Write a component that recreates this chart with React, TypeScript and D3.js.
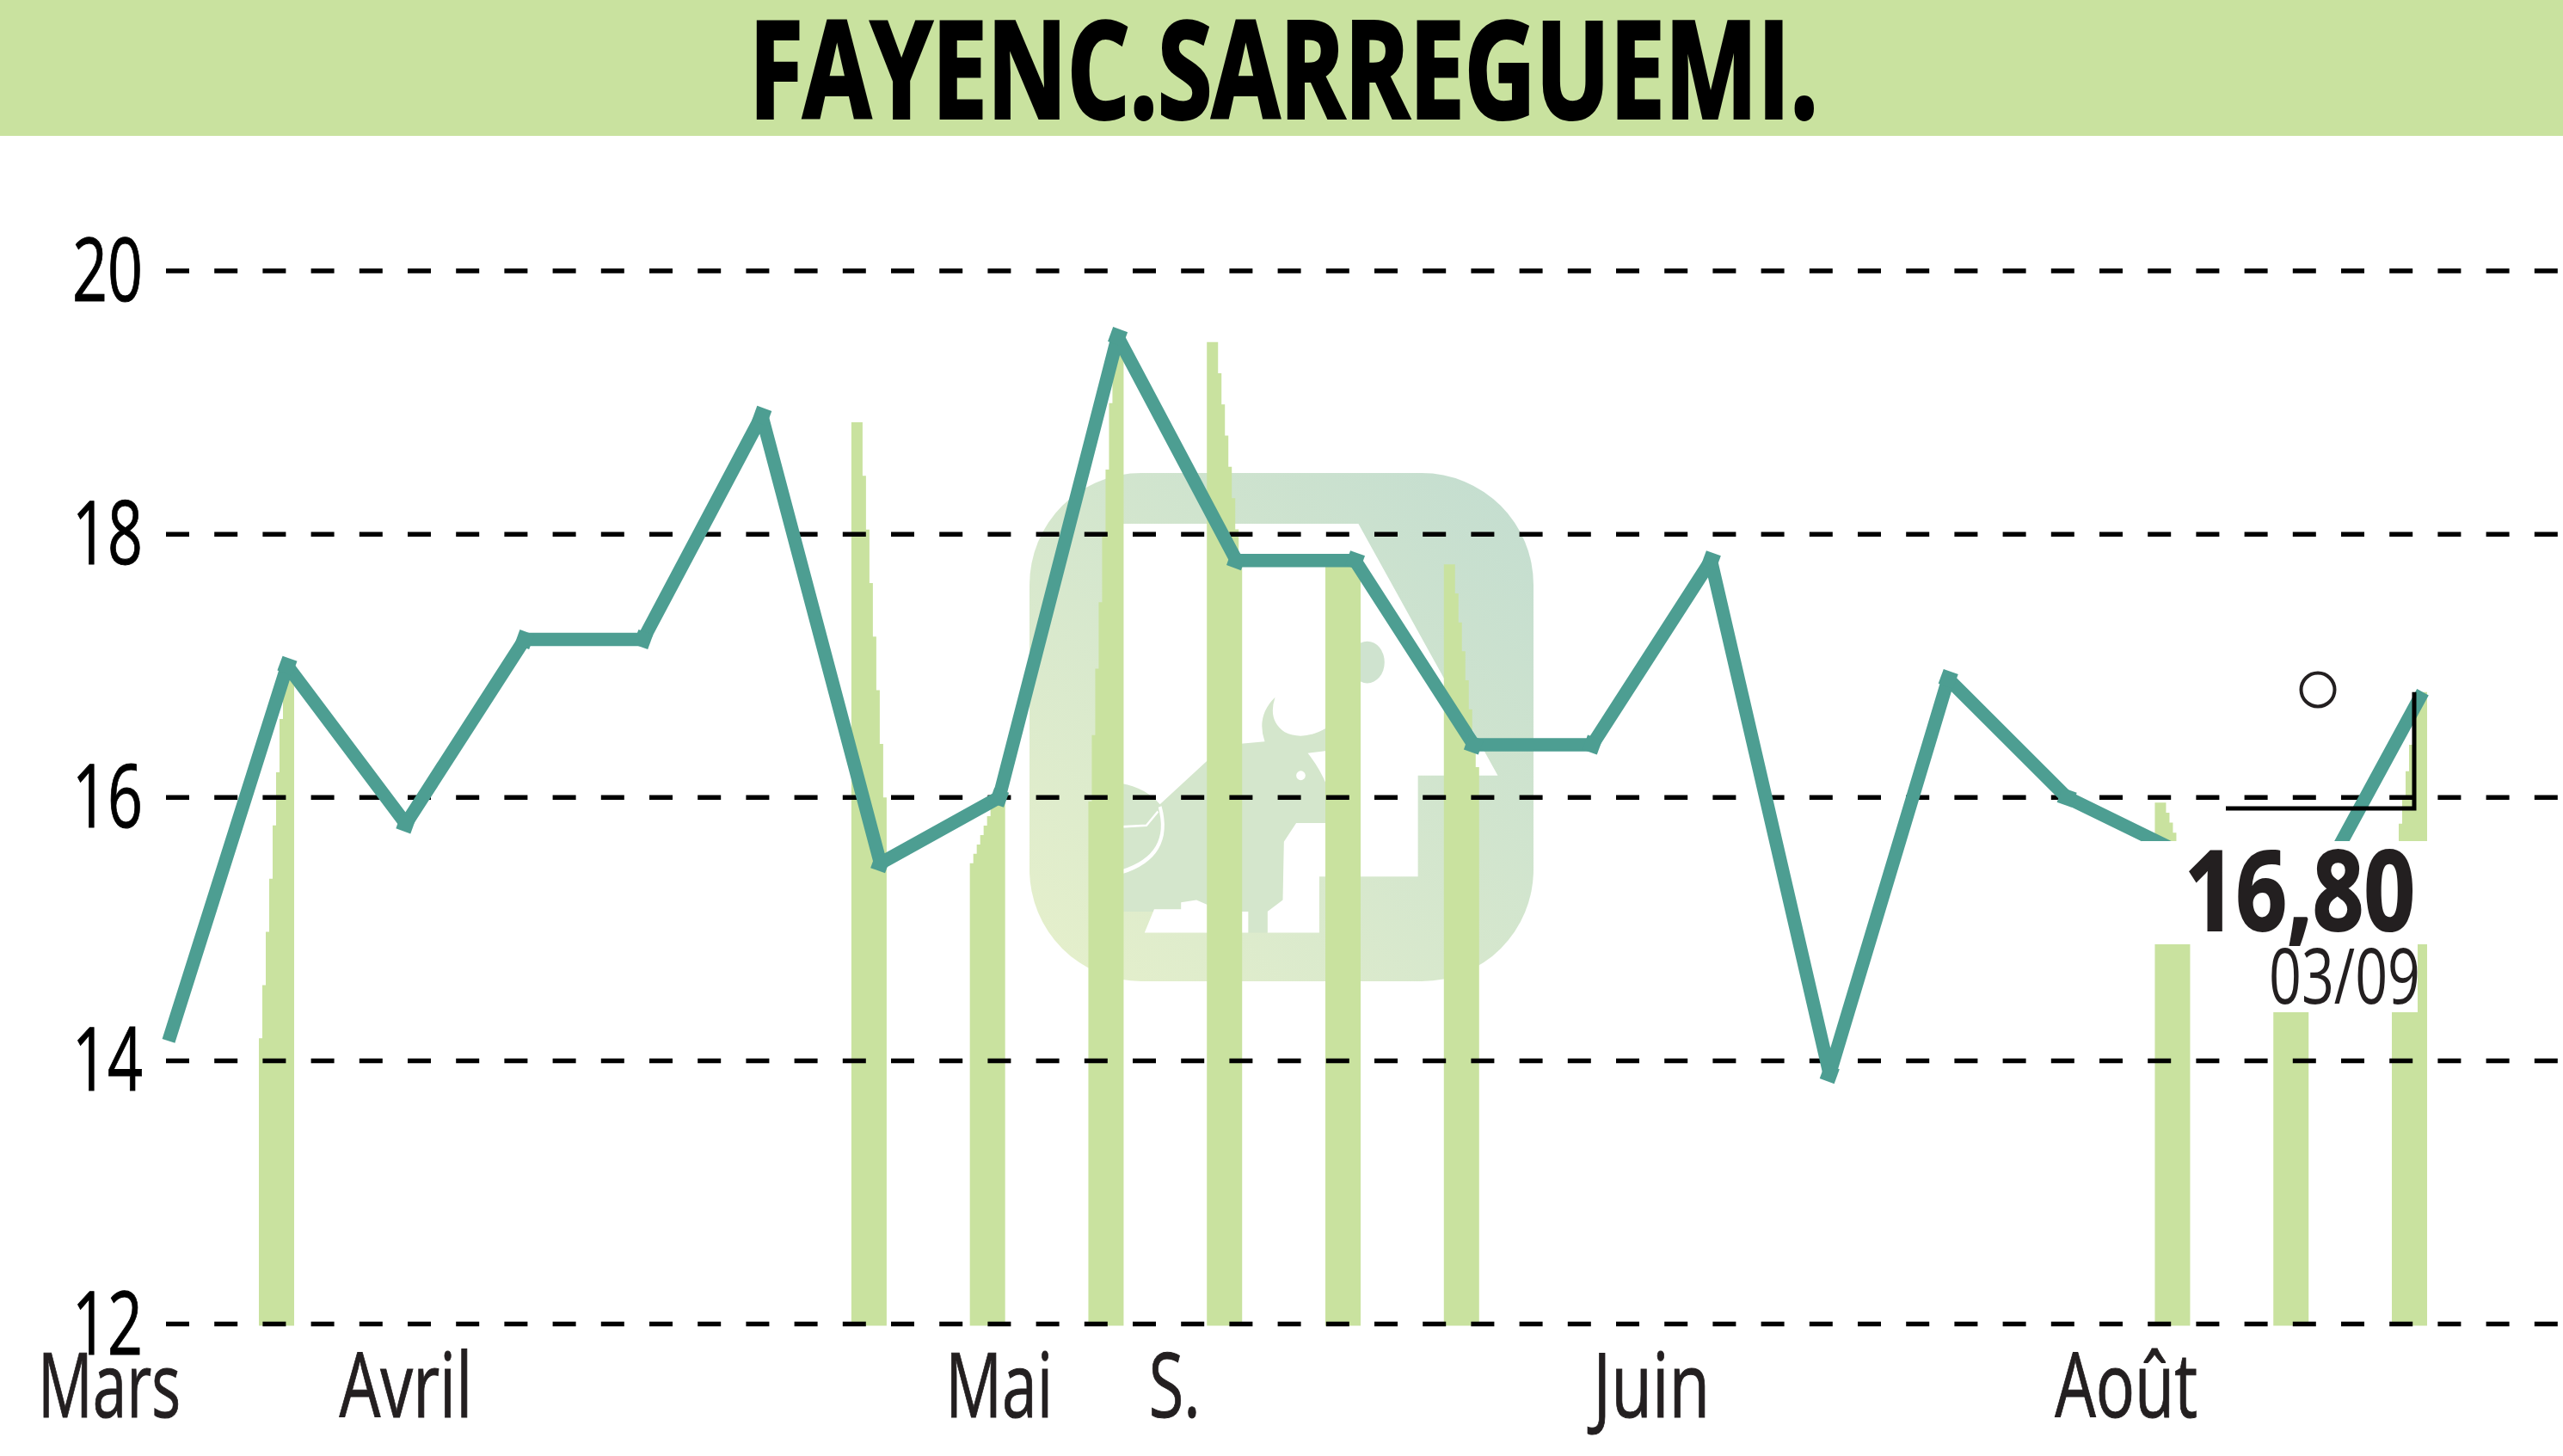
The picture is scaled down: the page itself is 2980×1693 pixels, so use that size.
import React from "react";
import * as d3 from "d3";

const W = 2980, H = 1693;
const title = "FAYENC.SARREGUEMI.";
const lineValues = [14.15, 17.0, 15.8, 17.2, 17.2, 18.9, 15.5, 16.0, 19.5, 17.8, 17.8, 16.4, 16.4, 17.8, 13.9, 16.9, 16.0, 15.56, 15.14, 16.8];
const yTicks = [12, 14, 16, 18, 20];
const monthLabels = ["Mars", "Avril", "Mai", "S.", "Juin", "Août"];
const monthPositions = [-0.5, 2, 7, 8.48, 12.5, 16.5];
const monthWidths = [166, 155, 125, 60, 136, 166];
const barIndex = [1, 6, 7, 8, 9, 10, 11, 17, 18, 19];
const barTop = [17.0, 18.85, 16.0, 19.5, 19.46, 17.8, 17.77, 15.96, 15.0, 16.8];
const barTaperEnd = [14.17, 16.0, 15.5, 15.97, 17.8, 17.8, 16.23, 15.43, 15.0, 15.4];
const barTaperSide = ["left", "right", "left", "left", "right", "none", "right", "right", "none", "left"];
const lastValue = "16,80";
const lastDate = "03/09";

const y = d3.scaleLinear().domain([12, 20]).range([1539.5, 315]);
const xLine = d3.scaleLinear().domain([0, 19]).range([196, 2817]);
const xBar = d3.scaleLinear().domain([1, 19]).range([301, 2781]);
const barW = 41, narrow = 13, steps = 7;

function barPath(i: number) {
  const x0 = xBar(barIndex[i]), x1 = x0 + barW;
  const top = y(barTop[i]), end = y(barTaperEnd[i]), base = y(12) + 2;
  const side = barTaperSide[i];
  const p = d3.path();
  if (side === "none") {
    p.rect(x0, top, barW, base - top);
    return p.toString();
  }
  const sh = (end - top) / steps, sw = (barW - narrow) / steps;
  if (side === "left") {
    p.moveTo(x1, top);
    p.lineTo(x1, base);
    p.lineTo(x0, base);
    p.lineTo(x0, end);
    for (let s = 1; s <= steps; s++) {
      p.lineTo(x0 + sw * (s - 1), end - sh * (s - 1));
      p.lineTo(x0 + sw * s, end - sh * (s - 1));
    }
    p.lineTo(x0 + sw * steps, top);
  } else {
    p.moveTo(x0, top);
    p.lineTo(x0, base);
    p.lineTo(x1, base);
    p.lineTo(x1, end);
    for (let s = 1; s <= steps; s++) {
      p.lineTo(x1 - sw * (s - 1), end - sh * (s - 1));
      p.lineTo(x1 - sw * s, end - sh * (s - 1));
    }
    p.lineTo(x1 - sw * steps, top);
  }
  p.closePath();
  return p.toString();
}

const line = d3.line<number>().x((_, i) => xLine(i)).y((d) => y(d)).curve(d3.curveLinear);
const GREEN = "#c9e29f", TEAL = "#4d9e92", INK = "#231f20";
const font = "'Open Sans', sans-serif";

export default function App() {
  return (
    <svg width={W} height={H} viewBox={`0 0 ${W} ${H}`} style={{ position: "absolute", left: 0, top: 0, display: "block", background: "#fff" }}>
      <defs>
        <linearGradient id="logo" gradientUnits="userSpaceOnUse" x1={1197} y1={1141} x2={1783} y2={550}>
          <stop offset="0" stopColor="#e6f0cb" />
          <stop offset="1" stopColor="#c3ddd0" />
        </linearGradient>
      </defs>
      <rect x={0} y={0} width={W} height={158} fill={GREEN} />
      <text x={871} y={137} fontFamily={font} fontWeight={700} fontSize={157} textLength={1243} lengthAdjust="spacingAndGlyphs" fill="#000" stroke="#000" strokeWidth={4}>{title}</text>

      <rect x={1197} y={550} width={586} height={591} rx={130} ry={130} fill="url(#logo)" />
      <g transform="translate(1150 350) scale(0.4464 0.542)">
        <path d="M340,478 L962,478 L1325,1018 L1117,1018 L1117,1235 L860,1235 L860,1355 L725,1355 L725,1300 L340,1300 Z" fill="#fff" />
        <ellipse cx={985} cy={775} rx={45} ry={45} fill="#cfe3cf" />
        <path d="M345,1035 Q410,1045 445,1080 L570,985 L650,950 L718,945 Q695,890 745,850 Q725,900 770,925 Q820,945 880,915 L880,965 L830,970 Q860,1000 880,1040 L880,1120 L800,1120 L768,1160 L765,1285 L725,1310 L725,1355 L675,1355 L675,1310 L345,1310 Z" fill="#d4e6cc" />
        <path d="M405,1355 L430,1305 L500,1305 L500,1290 L540,1285 L610,1310 L675,1310 L675,1355 Z" fill="#fff" />
        <path d="M445,1085 Q480,1190 345,1225" fill="none" stroke="#fff" strokeWidth={9} />
        <path d="M440,1095 L410,1125 L345,1128" fill="none" stroke="#fff" strokeWidth={5} />
        <ellipse cx={812} cy={1018} rx={12} ry={10} fill="#fff" />
      </g>

      {barIndex.map((_, i) => (
        <path key={i} d={barPath(i)} fill={GREEN} />
      ))}

      {yTicks.map((t) => (
        <line key={t} x1={193} x2={W} y1={y(t)} y2={y(t)} stroke="#000" strokeWidth={5.5} strokeDasharray="27 29.2" />
      ))}

      {yTicks.map((t) => (
        <text key={t} x={84} y={y(t) + 35} fontFamily={font} fontSize={103} textLength={82} lengthAdjust="spacingAndGlyphs" fill="#000" stroke="#000" strokeWidth={1}>{t}</text>
      ))}

      {monthLabels.map((m, i) => (
        <text key={m} x={xLine(monthPositions[i]) - monthWidths[i] / 2} y={1648} fontFamily={font} fontSize={105} textLength={monthWidths[i]} lengthAdjust="spacingAndGlyphs" fill={INK} stroke={INK} strokeWidth={1}>{m}</text>
      ))}

      <path d={line(lineValues) ?? ""} fill="none" stroke={TEAL} strokeWidth={15.5} strokeLinejoin="round" />
      {lineValues.slice(1, -1).map((v, i) => (
        <rect key={i} x={xLine(i + 1) - 9} y={y(v) - 9} width={18} height={18} fill={TEAL} transform={`rotate(20 ${xLine(i + 1)} ${y(v)})`} />
      ))}

      <rect x={2490} y={978} width={340} height={120} fill="#fff" />
      <rect x={2560} y={1098} width={251} height={79} fill="#fff" />

      <text x={2540} y={1082} fontFamily={font} fontWeight={700} fontSize={129} textLength={268} lengthAdjust="spacingAndGlyphs" fill={INK} stroke={INK} strokeWidth={2}>{lastValue}</text>
      <text x={2638} y={1167} fontFamily={font} fontSize={89} textLength={176} lengthAdjust="spacingAndGlyphs" fill={INK}>{lastDate}</text>

      <path d={`M2588,940 H${xLine(19) - 10} V${y(lineValues[19])}`} fill="none" stroke="#000" strokeWidth={5} />
      <circle cx={2695} cy={802} r={19.5} fill="none" stroke={INK} strokeWidth={4} />
    </svg>
  );
}
